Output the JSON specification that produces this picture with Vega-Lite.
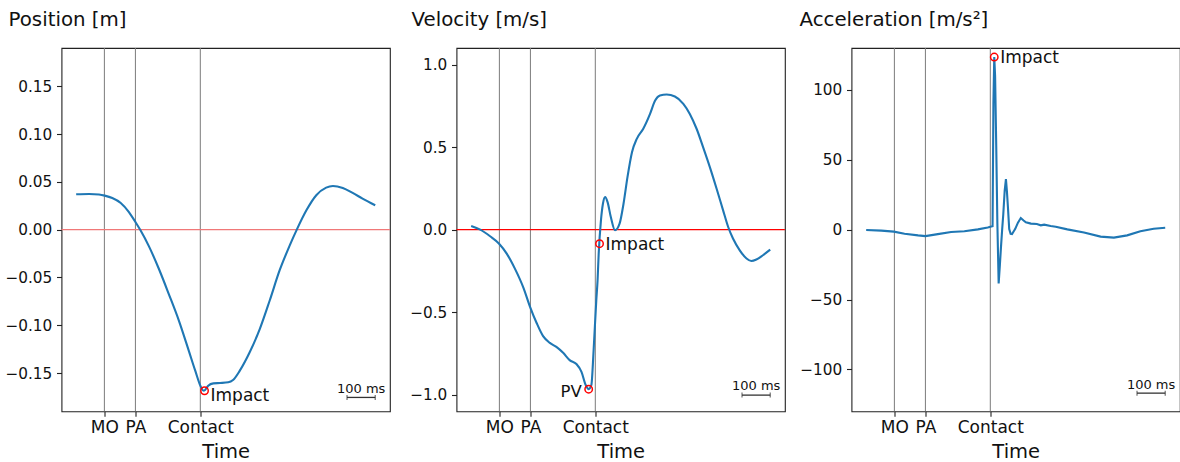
{
  "$schema": "https://vega.github.io/schema/vega-lite/v6.json",
  "background": "white",
  "padding": {"left": 3.5, "top": 9, "right": 0, "bottom": 0},
  "config": {
    "font": "DejaVu Sans",
    "view": {"stroke": "#222222", "strokeWidth": 1.1},
    "axis": {"domain": false, "grid": false, "tickColor": "#222222", "tickSize": 5, "tickWidth": 1.1, "labelFont": "DejaVu Sans", "labelColor": "#111111", "titleFont": "DejaVu Sans", "titleFontWeight": "normal", "titleColor": "#111111", "labelOverlap": false, "labelFlush": false},
    "title": {"font": "DejaVu Sans", "fontSize": 19.8, "fontWeight": "normal", "anchor": "start", "frame": "group", "color": "#111111"}
  },
  "datasets": {
    "one": [{"k": 1}],
    "caps": [{"e": 520}, {"e": 620}],
    "events": [{"t": -340, "event": "MO"}, {"t": -230, "event": "PA"}, {"t": 0, "event": "Contact"}],
    "markers": [
      {"panel": "pos", "t": 15, "v": -0.1685, "label": "Impact"},
      {"panel": "vel", "t": -23.5, "v": -0.966, "label": "PV"},
      {"panel": "vel", "t": 15, "v": -0.085, "label": "Impact"},
      {"panel": "acc", "t": 14, "v": 123.5, "label": "Impact"}
    ],
    "pos": [
      {"t": -440, "v": 0.037}, {"t": -394, "v": 0.0373}, {"t": -359, "v": 0.0367}, {"t": -339, "v": 0.0356},
      {"t": -312, "v": 0.0331}, {"t": -282, "v": 0.0279}, {"t": -253, "v": 0.0184}, {"t": -230, "v": 0.008},
      {"t": -212, "v": -0.0007}, {"t": -182, "v": -0.0175}, {"t": -147, "v": -0.0409}, {"t": -112, "v": -0.0671},
      {"t": -76, "v": -0.0951}, {"t": -41, "v": -0.1265}, {"t": -18, "v": -0.1475}, {"t": 3, "v": -0.165},
      {"t": 12, "v": -0.1685}, {"t": 17, "v": -0.1677}, {"t": 28, "v": -0.1632}, {"t": 46, "v": -0.1608},
      {"t": 70, "v": -0.1604}, {"t": 99, "v": -0.1597}, {"t": 116, "v": -0.1573}, {"t": 140, "v": -0.1475},
      {"t": 175, "v": -0.1283}, {"t": 211, "v": -0.1038}, {"t": 246, "v": -0.0741}, {"t": 281, "v": -0.0427},
      {"t": 317, "v": -0.0165}, {"t": 342, "v": 0.0}, {"t": 376, "v": 0.0202}, {"t": 411, "v": 0.036},
      {"t": 446, "v": 0.044}, {"t": 470, "v": 0.0457}, {"t": 505, "v": 0.0436}, {"t": 540, "v": 0.0384},
      {"t": 575, "v": 0.0325}, {"t": 620, "v": 0.0255}
    ],
    "vel": [
      {"t": -440, "v": 0.022}, {"t": -408, "v": 0.0}, {"t": -373, "v": -0.04}, {"t": -341, "v": -0.085},
      {"t": -314, "v": -0.145}, {"t": -285, "v": -0.236}, {"t": -255, "v": -0.351}, {"t": -232, "v": -0.464},
      {"t": -208, "v": -0.565}, {"t": -185, "v": -0.645}, {"t": -161, "v": -0.686}, {"t": -138, "v": -0.71},
      {"t": -114, "v": -0.746}, {"t": -91, "v": -0.79}, {"t": -67, "v": -0.814}, {"t": -49, "v": -0.861},
      {"t": -34, "v": -0.941}, {"t": -23.5, "v": -0.966}, {"t": -14, "v": -0.941}, {"t": -6, "v": -0.73},
      {"t": 3.5, "v": -0.427}, {"t": 8, "v": -0.307}, {"t": 12, "v": -0.145}, {"t": 20, "v": 0.056},
      {"t": 27, "v": 0.157}, {"t": 35, "v": 0.197}, {"t": 43.5, "v": 0.167}, {"t": 55, "v": 0.076},
      {"t": 70, "v": -0.004}, {"t": 86, "v": 0.036}, {"t": 100, "v": 0.157}, {"t": 114, "v": 0.318},
      {"t": 130, "v": 0.469}, {"t": 147, "v": 0.55}, {"t": 170, "v": 0.611}, {"t": 194, "v": 0.701},
      {"t": 212, "v": 0.782}, {"t": 229, "v": 0.812}, {"t": 253, "v": 0.818}, {"t": 282, "v": 0.806},
      {"t": 312, "v": 0.762}, {"t": 335, "v": 0.701}, {"t": 359, "v": 0.611}, {"t": 382, "v": 0.5},
      {"t": 406, "v": 0.379}, {"t": 430, "v": 0.248}, {"t": 453, "v": 0.117}, {"t": 471, "v": 0.016},
      {"t": 488, "v": -0.054}, {"t": 512, "v": -0.125}, {"t": 536, "v": -0.175}, {"t": 553, "v": -0.19},
      {"t": 571, "v": -0.181}, {"t": 594, "v": -0.155}, {"t": 620, "v": -0.121}
    ],
    "acc": [
      {"t": -440, "v": -0.3}, {"t": -386, "v": -0.7}, {"t": -342, "v": -1.4}, {"t": -304, "v": -2.9},
      {"t": -256, "v": -4.1}, {"t": -230, "v": -4.6}, {"t": -186, "v": -3.2}, {"t": -139, "v": -1.7},
      {"t": -92, "v": -1.2}, {"t": -44, "v": 0.2}, {"t": -9, "v": 1.6}, {"t": 0, "v": 2.1},
      {"t": 8, "v": 2.5}, {"t": 11, "v": 90}, {"t": 14, "v": 123.5}, {"t": 17, "v": 110},
      {"t": 21, "v": 60}, {"t": 25, "v": 5}, {"t": 29.6, "v": -38.5}, {"t": 34, "v": -25},
      {"t": 38, "v": -12}, {"t": 42, "v": 0}, {"t": 46, "v": 11}, {"t": 51, "v": 28},
      {"t": 55.4, "v": 36.2}, {"t": 59, "v": 27}, {"t": 62.5, "v": 16}, {"t": 67, "v": 0.4},
      {"t": 72, "v": -3}, {"t": 77, "v": -3.2}, {"t": 82, "v": -1.5}, {"t": 88, "v": 0.4},
      {"t": 98, "v": 5}, {"t": 108, "v": 8.3}, {"t": 118, "v": 6.5}, {"t": 126, "v": 5.2},
      {"t": 144, "v": 4.3}, {"t": 165, "v": 4.0}, {"t": 179, "v": 3.1}, {"t": 191, "v": 3.6},
      {"t": 214, "v": 2.6}, {"t": 232, "v": 2.1}, {"t": 273, "v": 0.2}, {"t": 332, "v": -2.1},
      {"t": 391, "v": -5.0}, {"t": 438, "v": -5.7}, {"t": 485, "v": -4.1}, {"t": 532, "v": -1.2},
      {"t": 579, "v": 0.7}, {"t": 620, "v": 1.4}
    ]
  },
  "spacing": 66,
  "bounds": "flush",
  "hconcat": [
    {
      "width": 328.4, "height": 363.3,
      "title": {"text": "Position [m]", "dx": -53, "offset": 17.7},
      "layer": [
        {"data": {"name": "events"}, "mark": {"type": "rule", "color": "#7a7a7a", "strokeWidth": 1},
         "encoding": {"x": {"field": "t", "type": "quantitative", "scale": {"domain": [-492, 672], "nice": false, "zero": false},
           "axis": {"values": [-340, -230, 0], "labelExpr": "datum.value == 0 ? 'Contact' : (datum.value < -300 ? 'MO' : 'PA')", "title": "Time", "titleFontSize": 19.5, "labelFontSize": 17, "labelPadding": 3, "titlePadding": 7}}}},
        {"data": {"name": "one"}, "mark": {"type": "rule", "color": "#f07878", "strokeWidth": 1.2},
         "encoding": {"y": {"datum": 0, "type": "quantitative", "scale": {"domain": [-0.19, 0.19], "nice": false, "zero": false},
           "axis": {"values": [-0.15, -0.1, -0.05, 0, 0.05, 0.1, 0.15], "format": ".2f", "labelFontSize": 15.3, "labelPadding": 4.7, "title": null}}}},
        {"data": {"name": "pos"}, "mark": {"type": "line", "color": "#1f77b4", "strokeWidth": 2.1, "interpolate": "monotone"},
         "encoding": {"x": {"field": "t", "type": "quantitative"}, "y": {"field": "v", "type": "quantitative"}}},
        {"data": {"name": "markers"}, "transform": [{"filter": "datum.panel == 'pos'"}],
         "mark": {"type": "point", "shape": "circle", "filled": false, "color": "#ff0000", "strokeWidth": 1.5, "size": 55, "opacity": 1},
         "encoding": {"x": {"field": "t", "type": "quantitative"}, "y": {"field": "v", "type": "quantitative"}}},
        {"data": {"name": "markers"}, "transform": [{"filter": "datum.panel == 'pos'"}],
         "mark": {"type": "text", "align": "left", "baseline": "middle", "dx": 6, "dy": 5, "fontSize": 17, "color": "#111111"},
         "encoding": {"x": {"field": "t", "type": "quantitative"}, "y": {"field": "v", "type": "quantitative"}, "text": {"field": "label"}}},
        {"data": {"name": "one"}, "mark": {"type": "rule", "color": "#333333", "strokeWidth": 1.3},
         "encoding": {"x": {"datum": 520, "type": "quantitative"}, "x2": {"datum": 620}, "y": {"datum": -0.1755, "type": "quantitative"}}},
        {"data": {"name": "caps"}, "mark": {"type": "tick", "orient": "vertical", "color": "#333333", "size": 5, "thickness": 1.2},
         "encoding": {"x": {"field": "e", "type": "quantitative"}, "y": {"datum": -0.1755, "type": "quantitative"}}},
        {"data": {"name": "one"}, "mark": {"type": "text", "text": "100 ms", "fontSize": 13, "align": "center", "baseline": "alphabetic", "dy": -4.5, "color": "#111111"},
         "encoding": {"x": {"datum": 570, "type": "quantitative"}, "y": {"datum": -0.1755, "type": "quantitative"}}}
      ]
    },
    {
      "width": 328.4, "height": 363.3,
      "title": {"text": "Velocity [m/s]", "dx": -45, "offset": 17.7},
      "layer": [
        {"data": {"name": "events"}, "mark": {"type": "rule", "color": "#7a7a7a", "strokeWidth": 1},
         "encoding": {"x": {"field": "t", "type": "quantitative", "scale": {"domain": [-492, 672], "nice": false, "zero": false},
           "axis": {"values": [-340, -230, 0], "labelExpr": "datum.value == 0 ? 'Contact' : (datum.value < -300 ? 'MO' : 'PA')", "title": "Time", "titleFontSize": 19.5, "labelFontSize": 17, "labelPadding": 3, "titlePadding": 7}}}},
        {"data": {"name": "one"}, "mark": {"type": "rule", "color": "#ff0000", "strokeWidth": 1.3},
         "encoding": {"y": {"datum": 0, "type": "quantitative", "scale": {"domain": [-1.1, 1.1], "nice": false, "zero": false},
           "axis": {"values": [-1, -0.5, 0, 0.5, 1], "format": ".1f", "labelFontSize": 15.3, "labelPadding": 4.7, "title": null}}}},
        {"data": {"name": "vel"}, "mark": {"type": "line", "color": "#1f77b4", "strokeWidth": 2.1, "interpolate": "monotone"},
         "encoding": {"x": {"field": "t", "type": "quantitative"}, "y": {"field": "v", "type": "quantitative"}}},
        {"data": {"name": "markers"}, "transform": [{"filter": "datum.panel == 'vel'"}],
         "mark": {"type": "point", "shape": "circle", "filled": false, "color": "#ff0000", "strokeWidth": 1.5, "size": 55, "opacity": 1},
         "encoding": {"x": {"field": "t", "type": "quantitative"}, "y": {"field": "v", "type": "quantitative"}}},
        {"data": {"name": "markers"}, "transform": [{"filter": "datum.panel == 'vel' && datum.label == 'Impact'"}],
         "mark": {"type": "text", "align": "left", "baseline": "middle", "dx": 6, "dy": 1, "fontSize": 17, "color": "#111111"},
         "encoding": {"x": {"field": "t", "type": "quantitative"}, "y": {"field": "v", "type": "quantitative"}, "text": {"field": "label"}}},
        {"data": {"name": "markers"}, "transform": [{"filter": "datum.panel == 'vel' && datum.label == 'PV'"}],
         "mark": {"type": "text", "align": "right", "baseline": "middle", "dx": -7, "dy": 3, "fontSize": 16.5, "color": "#111111"},
         "encoding": {"x": {"field": "t", "type": "quantitative"}, "y": {"field": "v", "type": "quantitative"}, "text": {"field": "label"}}},
        {"data": {"name": "one"}, "mark": {"type": "rule", "color": "#333333", "strokeWidth": 1.3},
         "encoding": {"x": {"datum": 520, "type": "quantitative"}, "x2": {"datum": 620}, "y": {"datum": -1.002, "type": "quantitative"}}},
        {"data": {"name": "caps"}, "mark": {"type": "tick", "orient": "vertical", "color": "#333333", "size": 5, "thickness": 1.2},
         "encoding": {"x": {"field": "e", "type": "quantitative"}, "y": {"datum": -1.002, "type": "quantitative"}}},
        {"data": {"name": "one"}, "mark": {"type": "text", "text": "100 ms", "fontSize": 13, "align": "center", "baseline": "alphabetic", "dy": -5, "color": "#111111"},
         "encoding": {"x": {"datum": 570, "type": "quantitative"}, "y": {"datum": -1.002, "type": "quantitative"}}}
      ]
    },
    {
      "width": 328.4, "height": 363.3,
      "title": {"text": "Acceleration [m/s²]", "dx": -52, "offset": 17.7},
      "layer": [
        {"data": {"name": "events"}, "mark": {"type": "rule", "color": "#7a7a7a", "strokeWidth": 1},
         "encoding": {"x": {"field": "t", "type": "quantitative", "scale": {"domain": [-492, 672], "nice": false, "zero": false},
           "axis": {"values": [-340, -230, 0], "labelExpr": "datum.value == 0 ? 'Contact' : (datum.value < -300 ? 'MO  ' : '  PA')", "title": "Time", "titleFontSize": 19.5, "labelFontSize": 17, "labelPadding": 3, "titlePadding": 7}}}},
        {"data": {"name": "acc"}, "mark": {"type": "line", "color": "#1f77b4", "strokeWidth": 2.1},
         "encoding": {"x": {"field": "t", "type": "quantitative"}, "y": {"field": "v", "type": "quantitative", "scale": {"domain": [-130, 130], "nice": false, "zero": false},
           "axis": {"values": [-100, -50, 0, 50, 100], "format": "d", "labelFontSize": 15.3, "labelPadding": 4.7, "title": null}}}},
        {"data": {"name": "markers"}, "transform": [{"filter": "datum.panel == 'acc'"}],
         "mark": {"type": "point", "shape": "circle", "filled": false, "color": "#ff0000", "strokeWidth": 1.5, "size": 55, "opacity": 1},
         "encoding": {"x": {"field": "t", "type": "quantitative"}, "y": {"field": "v", "type": "quantitative"}}},
        {"data": {"name": "markers"}, "transform": [{"filter": "datum.panel == 'acc'"}],
         "mark": {"type": "text", "align": "left", "baseline": "middle", "dx": 6, "dy": 1, "fontSize": 17, "color": "#111111"},
         "encoding": {"x": {"field": "t", "type": "quantitative"}, "y": {"field": "v", "type": "quantitative"}, "text": {"field": "label"}}},
        {"data": {"name": "one"}, "mark": {"type": "rule", "color": "#333333", "strokeWidth": 1.3},
         "encoding": {"x": {"datum": 520, "type": "quantitative"}, "x2": {"datum": 620}, "y": {"datum": -117, "type": "quantitative"}}},
        {"data": {"name": "caps"}, "mark": {"type": "tick", "orient": "vertical", "color": "#333333", "size": 5, "thickness": 1.2},
         "encoding": {"x": {"field": "e", "type": "quantitative"}, "y": {"datum": -117, "type": "quantitative"}}},
        {"data": {"name": "one"}, "mark": {"type": "text", "text": "100 ms", "fontSize": 13, "align": "center", "baseline": "alphabetic", "dy": -4.5, "color": "#111111"},
         "encoding": {"x": {"datum": 570, "type": "quantitative"}, "y": {"datum": -117, "type": "quantitative"}}}
      ]
    }
  ]
}
